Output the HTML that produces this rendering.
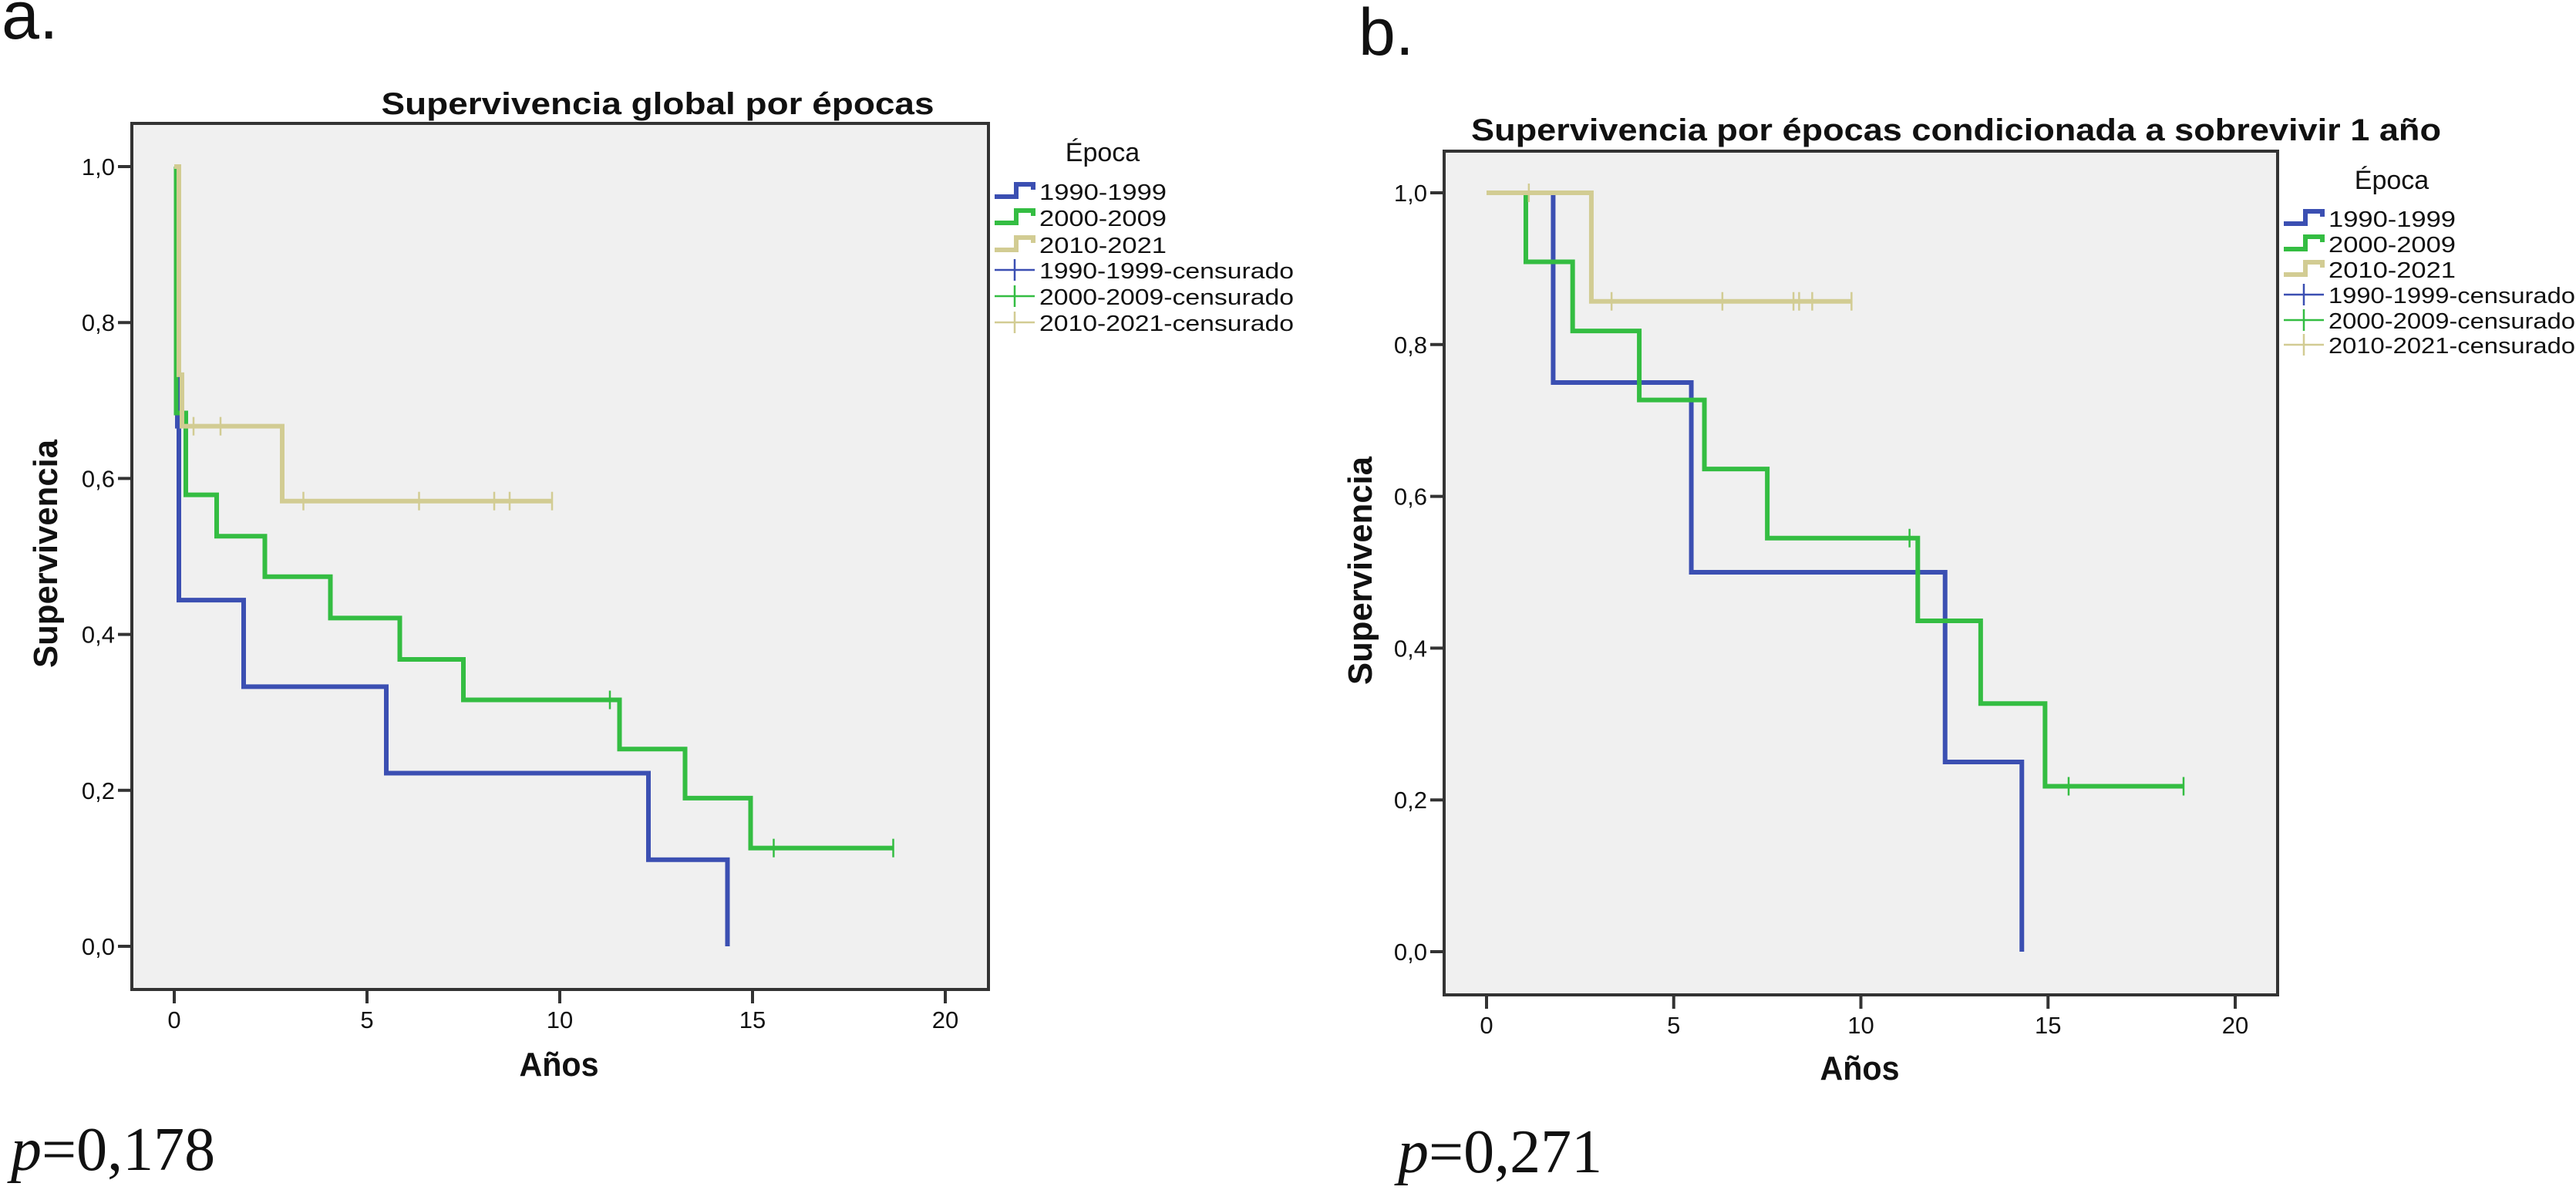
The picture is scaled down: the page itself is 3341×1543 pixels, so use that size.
<!DOCTYPE html>
<html><head><meta charset="utf-8">
<style>
html,body{margin:0;padding:0;background:#fff;}
svg{display:block;}
text{font-family:"Liberation Sans",sans-serif;fill:#111;}
</style></head>
<body>
<svg id="fig" width="3341" height="1543" viewBox="0 0 3341 1543" xmlns="http://www.w3.org/2000/svg">
<text x="2" y="50" font-size="88">a.</text>
<text x="1762" y="71" font-size="86">b.</text>
<text x="14" y="1517" font-size="80" style="font-family:'Liberation Serif',serif"><tspan font-style="italic">p</tspan>=0,178</text>
<text x="1813" y="1520" font-size="80" style="font-family:'Liberation Serif',serif"><tspan font-style="italic">p</tspan>=0,271</text>
</svg>
<script>
// ---- data: panel a (global survival) ----
const aBlueT = [0, 0.05, 0.08, 0.12, 1.8, 5.5, 12.3, 14.35];
const aBlueS = [1, 0.778, 0.667, 0.444, 0.333, 0.222, 0.111, 0];
const aBlueEnd = 14.35;
const aBlueCens = [];
const aGreenT = [0, 0.05, 0.3, 1.1, 2.35, 4.05, 5.85, 7.5, 11.55, 13.25, 14.95];
const aGreenS = [1, 0.684, 0.579, 0.526, 0.474, 0.421, 0.368, 0.316, 0.253, 0.190, 0.126];
const aGreenEnd = 18.65;
const aGreenCens = [11.3, 15.55, 18.65];
const aTanT = [0, 0.12, 0.2, 2.8];
const aTanS = [1, 0.733, 0.667, 0.571];
const aTanEnd = 9.8;
const aTanCens = [0.5, 1.2, 3.35, 6.35, 8.3, 8.7, 9.8];
// ---- data: panel b (conditional on 1-year survival) ----
const bBlueT = [0, 1.78, 5.47, 12.25, 14.3];
const bBlueS = [1, 0.75, 0.5, 0.25, 0];
const bBlueEnd = 14.3;
const bBlueCens = [];
const bGreenT = [0, 1.05, 2.3, 4.08, 5.82, 7.5, 11.52, 13.2, 14.92];
const bGreenS = [1, 0.909, 0.818, 0.727, 0.636, 0.545, 0.436, 0.327, 0.218];
const bGreenEnd = 18.62;
const bGreenCens = [11.3, 15.55, 18.62];
const bTanT = [0, 2.8];
const bTanS = [1, 0.857];
const bTanEnd = 9.75;
const bTanCens = [1.13, 3.34, 6.3, 8.2, 8.35, 8.7, 9.75];
// ---- axis tick labels ----
const xTicks = [0, 5, 10, 15, 20];
const yTicks = [0, 0.2, 0.4, 0.6, 0.8, 1.0];
const yTickLabels = ["0,0", "0,2", "0,4", "0,6", "0,8", "1,0"];
const legendLabels = ["1990-1999", "2000-2009", "2010-2021", "1990-1999-censurado", "2000-2009-censurado", "2010-2021-censurado"];

const NS = "http://www.w3.org/2000/svg";
const svg = document.getElementById('fig');
const COLORS = ["#3b4fb2", "#34bd42", "#d2cc93"];
function mk(tag, attrs, parent) {
  const e = document.createElementNS(NS, tag);
  for (const k in attrs) e.setAttribute(k, attrs[k]);
  (parent || svg).appendChild(e);
  return e;
}

function panel(P) {
  const g = mk('g', {});
  
  
  const xs = t => P.x0 + (t / 20) * (P.x20 - P.x0);
  const ys = s => P.y0 - s * (P.y0 - P.y1);
  const bg = mk('rect', {x: P.L, y: P.T, width: P.R - P.L, height: P.B - P.T, fill: '#f0f0f0', stroke: '#333', 'stroke-width': 4}, g);
  
  
  // title
  const ti = mk('text', {x: P.titleX, y: P.titleY, 'font-size': 40, 'font-weight': 'bold', 'text-anchor': 'middle', textLength: P.titleW, lengthAdjust: 'spacingAndGlyphs'}, g);
  ti.textContent = P.title;
  
  
  // y ticks
  yTicks.forEach((v, i) => {
    const y = ys(v);
    mk('line', {x1: P.L - 18, x2: P.L, y1: y, y2: y, stroke: '#333', 'stroke-width': 4}, g);
    const t = mk('text', {x: P.L - 22, y: y + 11, 'font-size': 31, 'text-anchor': 'end'}, g);
    t.textContent = yTickLabels[i];
    
    
  });
  xTicks.forEach(v => {
    const x = xs(v);
    mk('line', {x1: x, x2: x, y1: P.B, y2: P.B + 18, stroke: '#333', 'stroke-width': 4}, g);
    const t = mk('text', {x: x, y: P.B + 50, 'font-size': 31, 'text-anchor': 'middle'}, g);
    t.textContent = String(v);
    
    
  });
  const yt = mk('text', {x: 0, y: 0, 'font-size': 44, 'font-weight': 'bold', 'text-anchor': 'middle', transform: `translate(${P.ytX},${P.ytY}) rotate(-90)`, textLength: 296, lengthAdjust: 'spacingAndGlyphs'}, g);
  yt.textContent = 'Supervivencia';
  
  
  const xt = mk('text', {x: P.xtX, y: P.xtY, 'font-size': 44, 'font-weight': 'bold', 'text-anchor': 'middle', textLength: 103, lengthAdjust: 'spacingAndGlyphs'}, g);
  xt.textContent = 'Años';
  
  
  // curves (draw tan first, then green, blue? order: blue, green, tan per SPSS)
  P.series.forEach((s, si) => {
    let d = `M${xs(s.t[0])},${ys(s.s[0])}`;
    for (let i = 1; i < s.t.length; i++) {
      d += ` H${xs(s.t[i])} V${ys(s.s[i])}`;
    }
    d += ` H${xs(s.end)}`;
    const p = mk('path', {d: d, fill: 'none', stroke: COLORS[si], 'stroke-width': 6}, g);
    
    
    s.cens.forEach(c => {
      let lv = s.s[0];
      for (let i = 0; i < s.t.length; i++) if (s.t[i] <= c) lv = s.s[i];
      const cx = xs(c), cy = ys(lv);
      const m = mk('line', {x1: cx, x2: cx, y1: cy - 12, y2: cy + 12, stroke: COLORS[si], 'stroke-width': 2.5}, g);
      
      
    });
  });
  // legend
  const ep = mk('text', {x: P.legX + 140, y: P.epY + 12, 'font-size': 34, 'text-anchor': 'middle'}, g);
  ep.textContent = 'Época';
  
  
  legendLabels.forEach((lab, i) => {
    const y = P.legY[i];
    const c = COLORS[i % 3];
    const lx = P.legX;
    if (i < 3) {
      mk('path', {d: `M${lx},${y + 7} H${lx + 28} V${y - 9} H${lx + 50} V${y - 2}`, fill: 'none', stroke: c, 'stroke-width': 6}, g);
    } else {
      mk('line', {x1: lx, x2: lx + 52, y1: y, y2: y, stroke: c, 'stroke-width': 2.5}, g);
      mk('line', {x1: lx + 26, x2: lx + 26, y1: y - 14, y2: y + 14, stroke: c, 'stroke-width': 2.5}, g);
    }
    const t = mk('text', {x: lx + 58, y: y + 11, 'font-size': 29, textLength: (i < 3 ? 165 : P.censW), lengthAdjust: 'spacingAndGlyphs'}, g);
    t.textContent = lab;
    
    
  });
}

panel({
  id: 'panel-a', L: 171, R: 1282, T: 160, B: 1283,
  x0: 226, x20: 1226, y0: 1227, y1: 216,
  title: 'Supervivencia global por épocas', titleX: 853, titleY: 148, titleW: 717,
  ytX: 74, ytY: 718, xtX: 725, xtY: 1395,
  legX: 1290, epY: 197, legY: [248, 282, 317, 350, 384, 418], censW: 330,
  series: [
    {t: aBlueT, s: aBlueS, end: aBlueEnd, cens: aBlueCens},
    {t: aGreenT, s: aGreenS, end: aGreenEnd, cens: aGreenCens},
    {t: aTanT, s: aTanS, end: aTanEnd, cens: aTanCens}
  ]
});
panel({
  id: 'panel-b', L: 1873, R: 2954, T: 196, B: 1290,
  x0: 1928, x20: 2899, y0: 1234, y1: 250,
  title: 'Supervivencia por épocas condicionada a sobrevivir 1 año', titleX: 2537, titleY: 182, titleW: 1258,
  ytX: 1779, ytY: 740, xtX: 2412, xtY: 1400,
  legX: 2962, epY: 233, legY: [283, 316, 349, 382, 415, 447], censW: 320,
  series: [
    {t: bBlueT, s: bBlueS, end: bBlueEnd, cens: bBlueCens},
    {t: bGreenT, s: bGreenS, end: bGreenEnd, cens: bGreenCens},
    {t: bTanT, s: bTanS, end: bTanEnd, cens: bTanCens}
  ]
});
</script>
</body></html>
